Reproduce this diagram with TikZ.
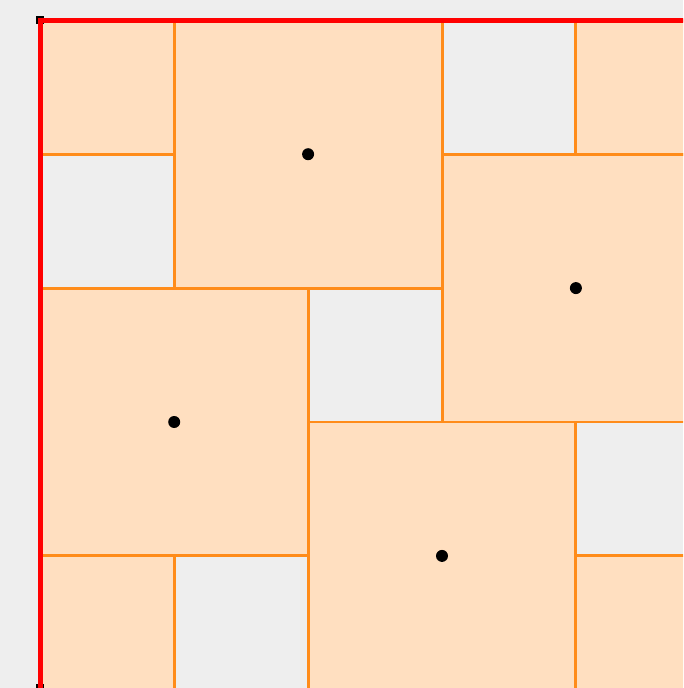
\documentclass[tikz,border=0pt]{standalone}
\definecolor{bgc}{RGB}{238,238,238}
\definecolor{tilefill}{RGB}{255,223,192}
\definecolor{tileline}{RGB}{255,140,26}
\definecolor{redline}{RGB}{255,0,0}
\begin{document}
\begin{tikzpicture}[x={(0.02cm,0)},y={(0,-0.02cm)},
  tile/.style={fill=tilefill,draw=tileline,line width=1.7pt},
  border/.style={draw=redline,line width=2.6pt},
  centre/.style={fill=black}]
\def\u{133.9}
\fill[bgc] (0,0) rectangle (683,688);
\useasboundingbox (0,0) rectangle (683,688);
\clip (0,0) rectangle (683,688);
% small squares
\foreach \c/\r in {0/0,4/0,0/4,4/4}
  \draw[tile] ({40.3+\c*\u},{20.3+\r*\u}) rectangle ({40.3+(\c+1)*\u},{20.3+(\r+1)*\u});
% big squares
\foreach \c/\r in {1/0,3/1,0/2,2/3}{
  \draw[tile] ({40.3+\c*\u},{20.3+\r*\u}) rectangle ({40.3+(\c+2)*\u},{20.3+(\r+2)*\u});
  \fill[centre] ({40.3+(\c+1)*\u},{20.3+(\r+1)*\u}) circle[radius=6];
}
\fill[black] (36,16) rectangle (44,24);
\fill[black] (36,684) rectangle (44,692);
\draw[border] (40.3,688) -- (40.3,20.3) -- (690,20.3);
\end{tikzpicture}
\end{document}
